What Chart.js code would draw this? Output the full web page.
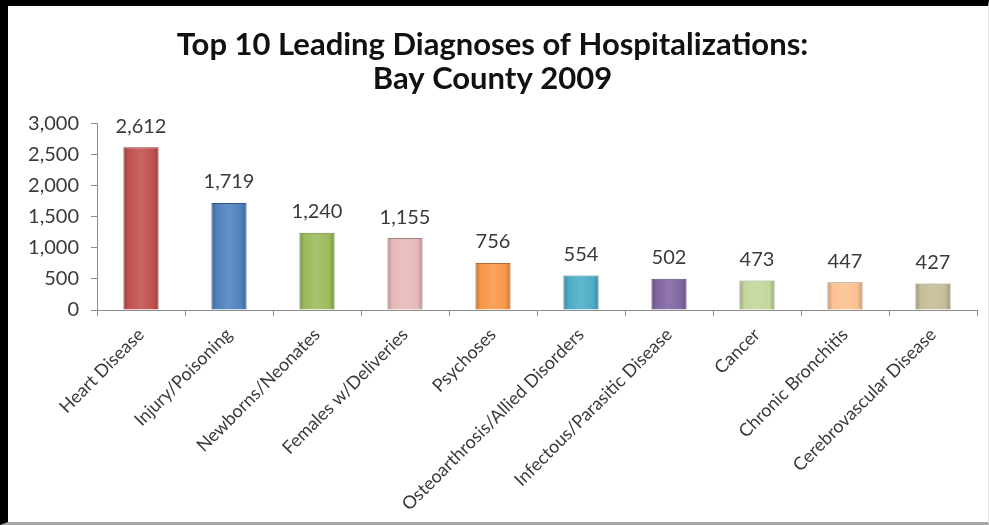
<!DOCTYPE html>
<html>
<head>
<meta charset="utf-8">
<script src="https://cdn.jsdelivr.net/npm/chart.js@4.4.0/dist/chart.umd.min.js"></script>
<style>
  html, body { margin: 0; padding: 0; background: #fff; }
  #wrap {
    width: 989px; height: 525px; box-sizing: border-box;
    border-top: 6px solid #000; border-left: 8px solid #000;
    border-bottom: 3px solid #a8a8a8; border-right: 1px solid #e4e4e4;
    position: relative;
  }
</style>
</head>
<body>
<div id="wrap"><canvas id="mycanvas"></canvas></div>
<script>
var diagnoses = ["Heart Disease", "Injury/Poisoning", "Newborns/Neonates", "Females w/Deliveries",
  "Psychoses", "Osteoarthrosis/Allied Disorders", "Infectous/Parasitic Disease", "Cancer",
  "Chronic Bronchitis", "Cerebrovascular Disease"];
var hospitalizations = [2612, 1719, 1240, 1155, 756, 554, 502, 473, 447, 427];
var yTicks = [0, 500, 1000, 1500, 2000, 2500, 3000];
var barColors = ["#C0504D", "#4F81BD", "#9BBB59", "#E6B9B8", "#F79646",
  "#4BACC6", "#8064A2", "#C3D69B", "#FAC090", "#C4BD97"];

function shade(hex, f) {
  var n = parseInt(hex.slice(1), 16);
  var r = (n >> 16) & 255, g = (n >> 8) & 255, b = n & 255;
  function c(v) {
    v = f < 0 ? v * (1 + f) : v + (255 - v) * f;
    return Math.round(Math.max(0, Math.min(255, v)));
  }
  return "rgb(" + c(r) + "," + c(g) + "," + c(b) + ")";
}

var labelFont = "Lato, 'Liberation Sans', sans-serif";

// numbers above the bars
var valueLabels = {
  id: "valueLabels",
  afterDatasetsDraw: function(chart) {
    var ctx = chart.ctx;
    var meta = chart.getDatasetMeta(0);
    ctx.save();
    ctx.font = "20px " + labelFont;
    ctx.fillStyle = "#3a3a3a";
    ctx.textAlign = "center";
    ctx.textBaseline = "bottom";
    meta.data.forEach(function(bar, i) {
      ctx.fillText(hospitalizations[i].toLocaleString("en-US"), bar.x, bar.y - 11);
    });
    ctx.restore();
  }
};

var ctx = document.getElementById("mycanvas");

var barGraph = new Chart(ctx, {
  type: "bar",
  data: {
    labels: diagnoses,
    datasets: [{
      label: "Hospitalizations",
      data: hospitalizations,
      backgroundColor: function(c) {
        var chart = c.chart, base = barColors[c.dataIndex];
        if (!chart.chartArea || !chart.scales.x) return base;
        var x = chart.scales.x.getPixelForValue(c.dataIndex);
        var g = chart.ctx.createLinearGradient(x - 18, 0, x + 18, 0);
        g.addColorStop(0, shade(base, -0.25));
        g.addColorStop(0.15, base);
        g.addColorStop(0.5, shade(base, 0.12));
        g.addColorStop(0.85, base);
        g.addColorStop(1, shade(base, -0.25));
        return g;
      },
      borderColor: barColors.map(function(c) { return shade(c, -0.3); }),
      borderWidth: 1,
      borderSkipped: "bottom",
      categoryPercentage: 0.8,
      barPercentage: 0.5
    }]
  },
  options: {
    responsive: true,
    maintainAspectRatio: false,
    animation: false,
    layout: { padding: { left: 0, right: 11, top: 0, bottom: 0 } },
    plugins: {
      legend: { display: false },
      tooltip: { enabled: false },
      title: {
        display: true,
        text: ["Top 10 Leading Diagnoses of Hospitalizations:", "Bay County 2009"],
        color: "#111",
        font: { family: labelFont, size: 31, weight: "bold", lineHeight: 1.1 },
        padding: { top: 22, bottom: 27 }
      }
    },
    scales: {
      y: {
        min: 0,
        max: 3000,
        afterBuildTicks: function(scale) {
          scale.ticks = yTicks.map(function(v) { return { value: v }; });
        },
        afterFit: function(scale) { scale.width = 89; },
        ticks: {
          color: "#3a3a3a",
          font: { family: labelFont, size: 20 },
          padding: 12,
          callback: function(v) { return v.toLocaleString("en-US"); }
        },
        grid: { drawOnChartArea: false, drawTicks: true, tickLength: 6, color: "#8c8c8c" },
        border: { color: "#8c8c8c" }
      },
      x: {
        afterFit: function(scale) { scale.height = 212; },
        ticks: {
          color: "#3a3a3a",
          font: { family: labelFont, size: 18 },
          minRotation: 45,
          maxRotation: 45,
          autoSkip: false,
          padding: 8
        },
        grid: { drawOnChartArea: false, drawTicks: true, tickLength: 6, color: "#8c8c8c", offset: true },
        border: { color: "#8c8c8c" }
      }
    }
  },
  plugins: [valueLabels]
});
</script>
</body>
</html>
